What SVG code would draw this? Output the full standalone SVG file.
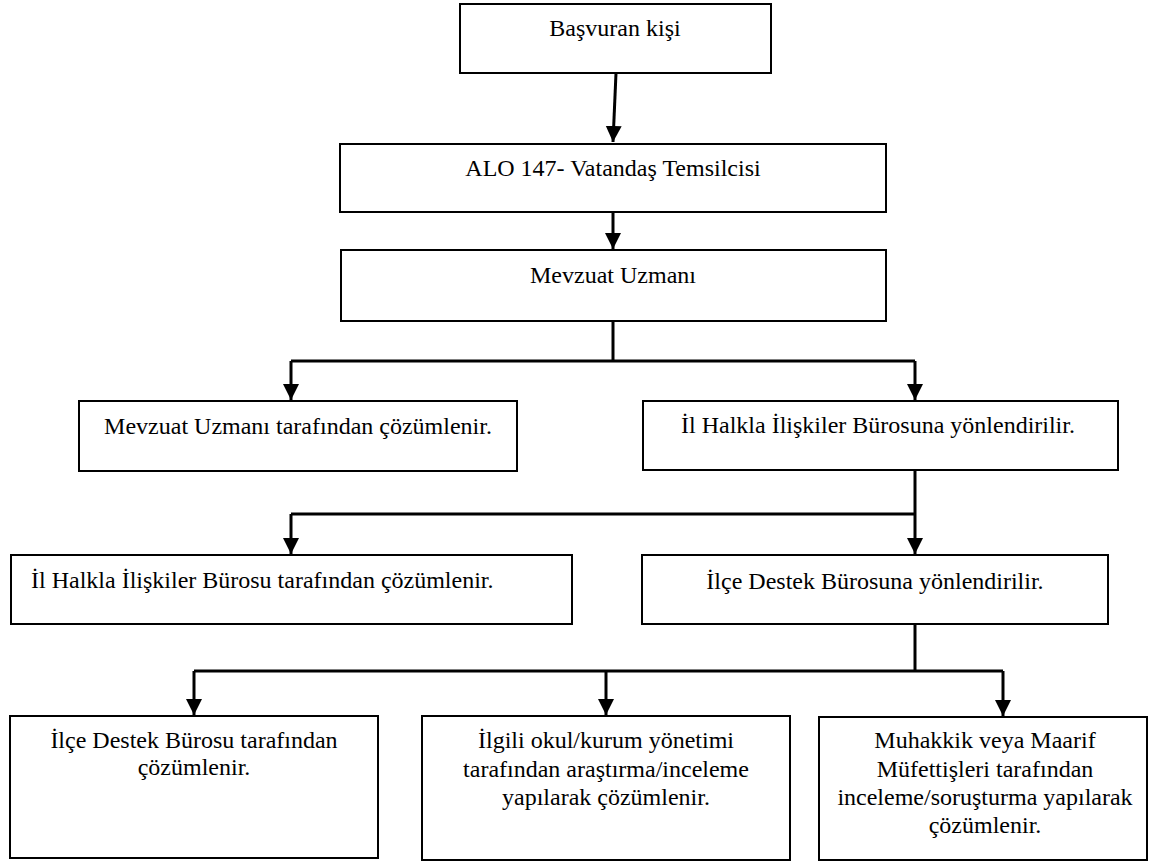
<svg xmlns="http://www.w3.org/2000/svg" width="1149" height="863" viewBox="0 0 1149 863">
<style>
.box{fill:#fff;stroke:#000;stroke-width:2}
.t{font-family:'Liberation Serif','Times New Roman',Times,'DejaVu Serif',serif;font-size:24px;fill:#000}
.c{text-anchor:middle}
.con{fill:none;stroke:#000;stroke-width:3}
</style>
<defs>
<marker id="ah" markerUnits="userSpaceOnUse" markerWidth="18" markerHeight="18" viewBox="0 0 18 18" refX="16" refY="9" orient="auto">
<path d="M0,1 L16,9 L0,17 Z" fill="#000"/>
</marker>
</defs>
<rect width="1149" height="863" fill="#fff"/>
<g id="connectors">
<path class="con" d="M616,73 L613,142" marker-end="url(#ah)"/>
<path class="con" d="M613,212 L613,249" marker-end="url(#ah)"/>
<path class="con" d="M613,321 L613,361"/>
<path class="con" d="M291,361 L915,361"/>
<path class="con" d="M291,361 L291,400" marker-end="url(#ah)"/>
<path class="con" d="M915,361 L915,400" marker-end="url(#ah)"/>
<path class="con" d="M915,470 L915,554" marker-end="url(#ah)"/>
<path class="con" d="M291,514 L915,514"/>
<path class="con" d="M291,514 L291,554" marker-end="url(#ah)"/>
<path class="con" d="M915,624 L915,671"/>
<path class="con" d="M194,671 L1003,671"/>
<path class="con" d="M194,671 L194,715" marker-end="url(#ah)"/>
<path class="con" d="M606,671 L606,715" marker-end="url(#ah)"/>
<path class="con" d="M1003,671 L1003,716" marker-end="url(#ah)"/>
</g>
<g id="n1">
<rect class="box" x="460" y="4" width="311" height="69"/>
<text class="t c" font-family="Liberation Serif, serif" x="615" y="36">Başvuran kişi</text>
</g>
<g id="n2">
<rect class="box" x="340" y="144" width="546" height="68"/>
<text class="t c" font-family="Liberation Serif, serif" x="613" y="176">ALO 147- Vatandaş Temsilcisi</text>
</g>
<g id="n3">
<rect class="box" x="341" y="250" width="545" height="71"/>
<text class="t c" font-family="Liberation Serif, serif" x="613" y="283">Mevzuat Uzmanı</text>
</g>
<g id="n4">
<rect class="box" x="79" y="401" width="438" height="70"/>
<text class="t c" font-family="Liberation Serif, serif" x="298" y="434">Mevzuat Uzmanı tarafından çözümlenir.</text>
</g>
<g id="n5">
<rect class="box" x="643" y="401" width="475" height="69"/>
<text class="t c" font-family="Liberation Serif, serif" x="878" y="433">İl Halkla İlişkiler Bürosuna yönlendirilir.</text>
</g>
<g id="n6">
<rect class="box" x="11" y="555" width="561" height="69"/>
<text class="t" font-family="Liberation Serif, serif" x="31" y="588">İl Halkla İlişkiler Bürosu tarafından çözümlenir.</text>
</g>
<g id="n7">
<rect class="box" x="642" y="555" width="466" height="69"/>
<text class="t c" font-family="Liberation Serif, serif" x="875" y="589">İlçe Destek Bürosuna yönlendirilir.</text>
</g>
<g id="n8">
<rect class="box" x="10" y="716" width="368" height="142"/>
<text class="t c" font-family="Liberation Serif, serif" x="194" y="748">İlçe Destek Bürosu tarafından</text>
<text class="t c" font-family="Liberation Serif, serif" x="194" y="775">çözümlenir.</text>
</g>
<g id="n9">
<rect class="box" x="422" y="716" width="368" height="144"/>
<text class="t c" font-family="Liberation Serif, serif" x="606" y="748">İlgili okul/kurum yönetimi</text>
<text class="t c" font-family="Liberation Serif, serif" x="606" y="777">tarafından araştırma/inceleme</text>
<text class="t c" font-family="Liberation Serif, serif" x="606" y="805">yapılarak çözümlenir.</text>
</g>
<g id="n10">
<rect class="box" x="819" y="717" width="328" height="143"/>
<text class="t c" font-family="Liberation Serif, serif" x="985" y="748">Muhakkik veya Maarif</text>
<text class="t c" font-family="Liberation Serif, serif" x="985" y="777">Müfettişleri tarafından</text>
<text class="t c" font-family="Liberation Serif, serif" x="985" y="805">inceleme/soruşturma yapılarak</text>
<text class="t c" font-family="Liberation Serif, serif" x="985" y="833">çözümlenir.</text>
</g>
</svg>
